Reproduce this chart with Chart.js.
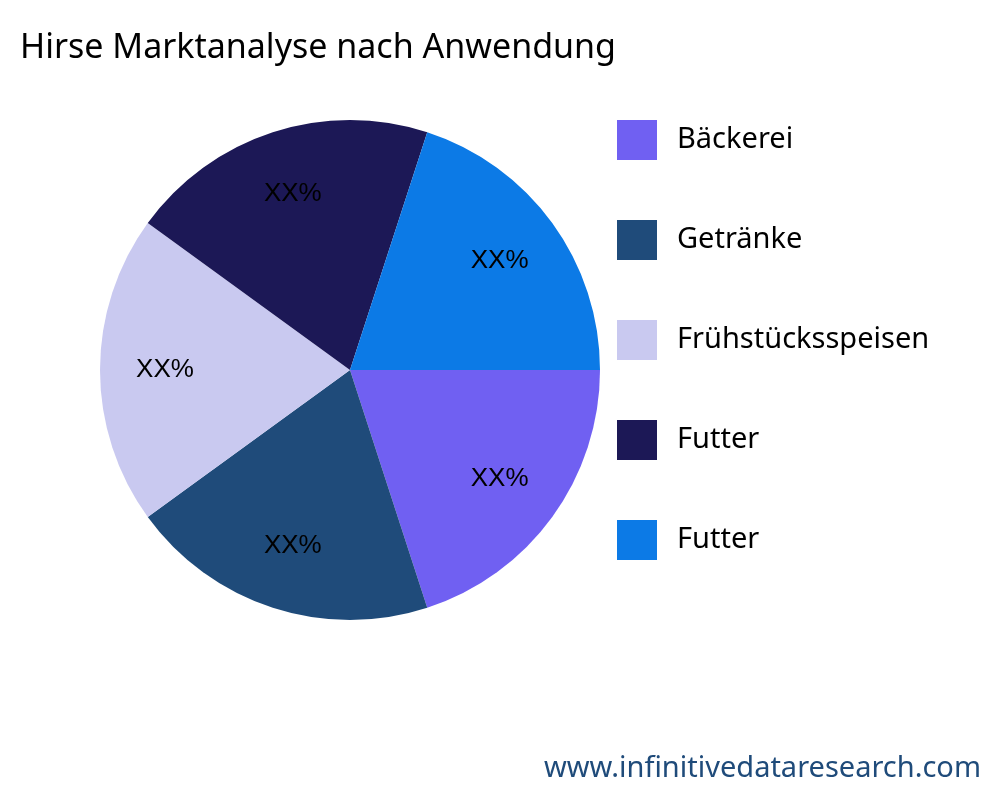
<!DOCTYPE html>
<html><head><meta charset="utf-8">
<script src="https://cdn.jsdelivr.net/npm/chart.js@4"></script>
<style>html,body{margin:0;background:#fff}#w{width:1000px;height:800px;position:relative}</style>
</head><body><div id="w"><canvas id="c"></canvas></div>
<script>
const categories = ["Bäckerei","Getränke","Frühstücksspeisen","Futter","Futter"];
const values = [20,20,20,20,20];
const sliceLabels = ["XX%","XX%","XX%","XX%","XX%"];
const colors = ["#7060f2","#1f4b7a","#c9c9f0","#1c1856","#0c7ae6"];
const titleText = "Hirse Marktanalyse nach Anwendung";
const footer = "www.infinitivedataresearch.com";

const deco = {
  id:'deco',
  afterDatasetsDraw(chart){
    const ctx = chart.ctx;
    const meta = chart.getDatasetMeta(0);
    ctx.save();
    ctx.fillStyle='#000'; ctx.font='26px "Liberation Sans", Arial'; ctx.textAlign='center'; ctx.textBaseline='middle';
    meta.data.forEach((a,i)=>{
      const mid=(a.startAngle+a.endAngle)/2, r=a.outerRadius*0.74;
      ctx.fillText(sliceLabels[i], a.x+Math.cos(mid)*r, a.y+Math.sin(mid)*r);
    });
    ctx.textAlign='left';
    ctx.font='34px "Noto Sans"'; ctx.fillStyle='#000';
    ctx.fillText(titleText, 20, 48);
    ctx.font='29px "Noto Sans"';
    categories.forEach((c,i)=>{
      const y=140+i*100;
      ctx.fillStyle=colors[i]; ctx.fillRect(617,y-20,40,40);
      ctx.fillStyle='#000'; ctx.fillText(c,677,y);
    });
    ctx.textAlign='right'; ctx.fillStyle='#1f4b7a'; ctx.font='29px "Noto Sans"';
    ctx.fillText(footer, 981, 769);
    ctx.restore();
  }
};
new Chart(document.getElementById('c'),{
  type:'pie',
  data:{labels:categories,datasets:[{data:values,backgroundColor:colors,borderWidth:0}]},
  options:{responsive:true,maintainAspectRatio:false,animation:false,rotation:90,
    layout:{padding:{left:100,right:400,top:120,bottom:180}},
    plugins:{legend:{display:false},tooltip:{enabled:false},title:{display:false}}},
  plugins:[deco]
});
</script></body></html>
